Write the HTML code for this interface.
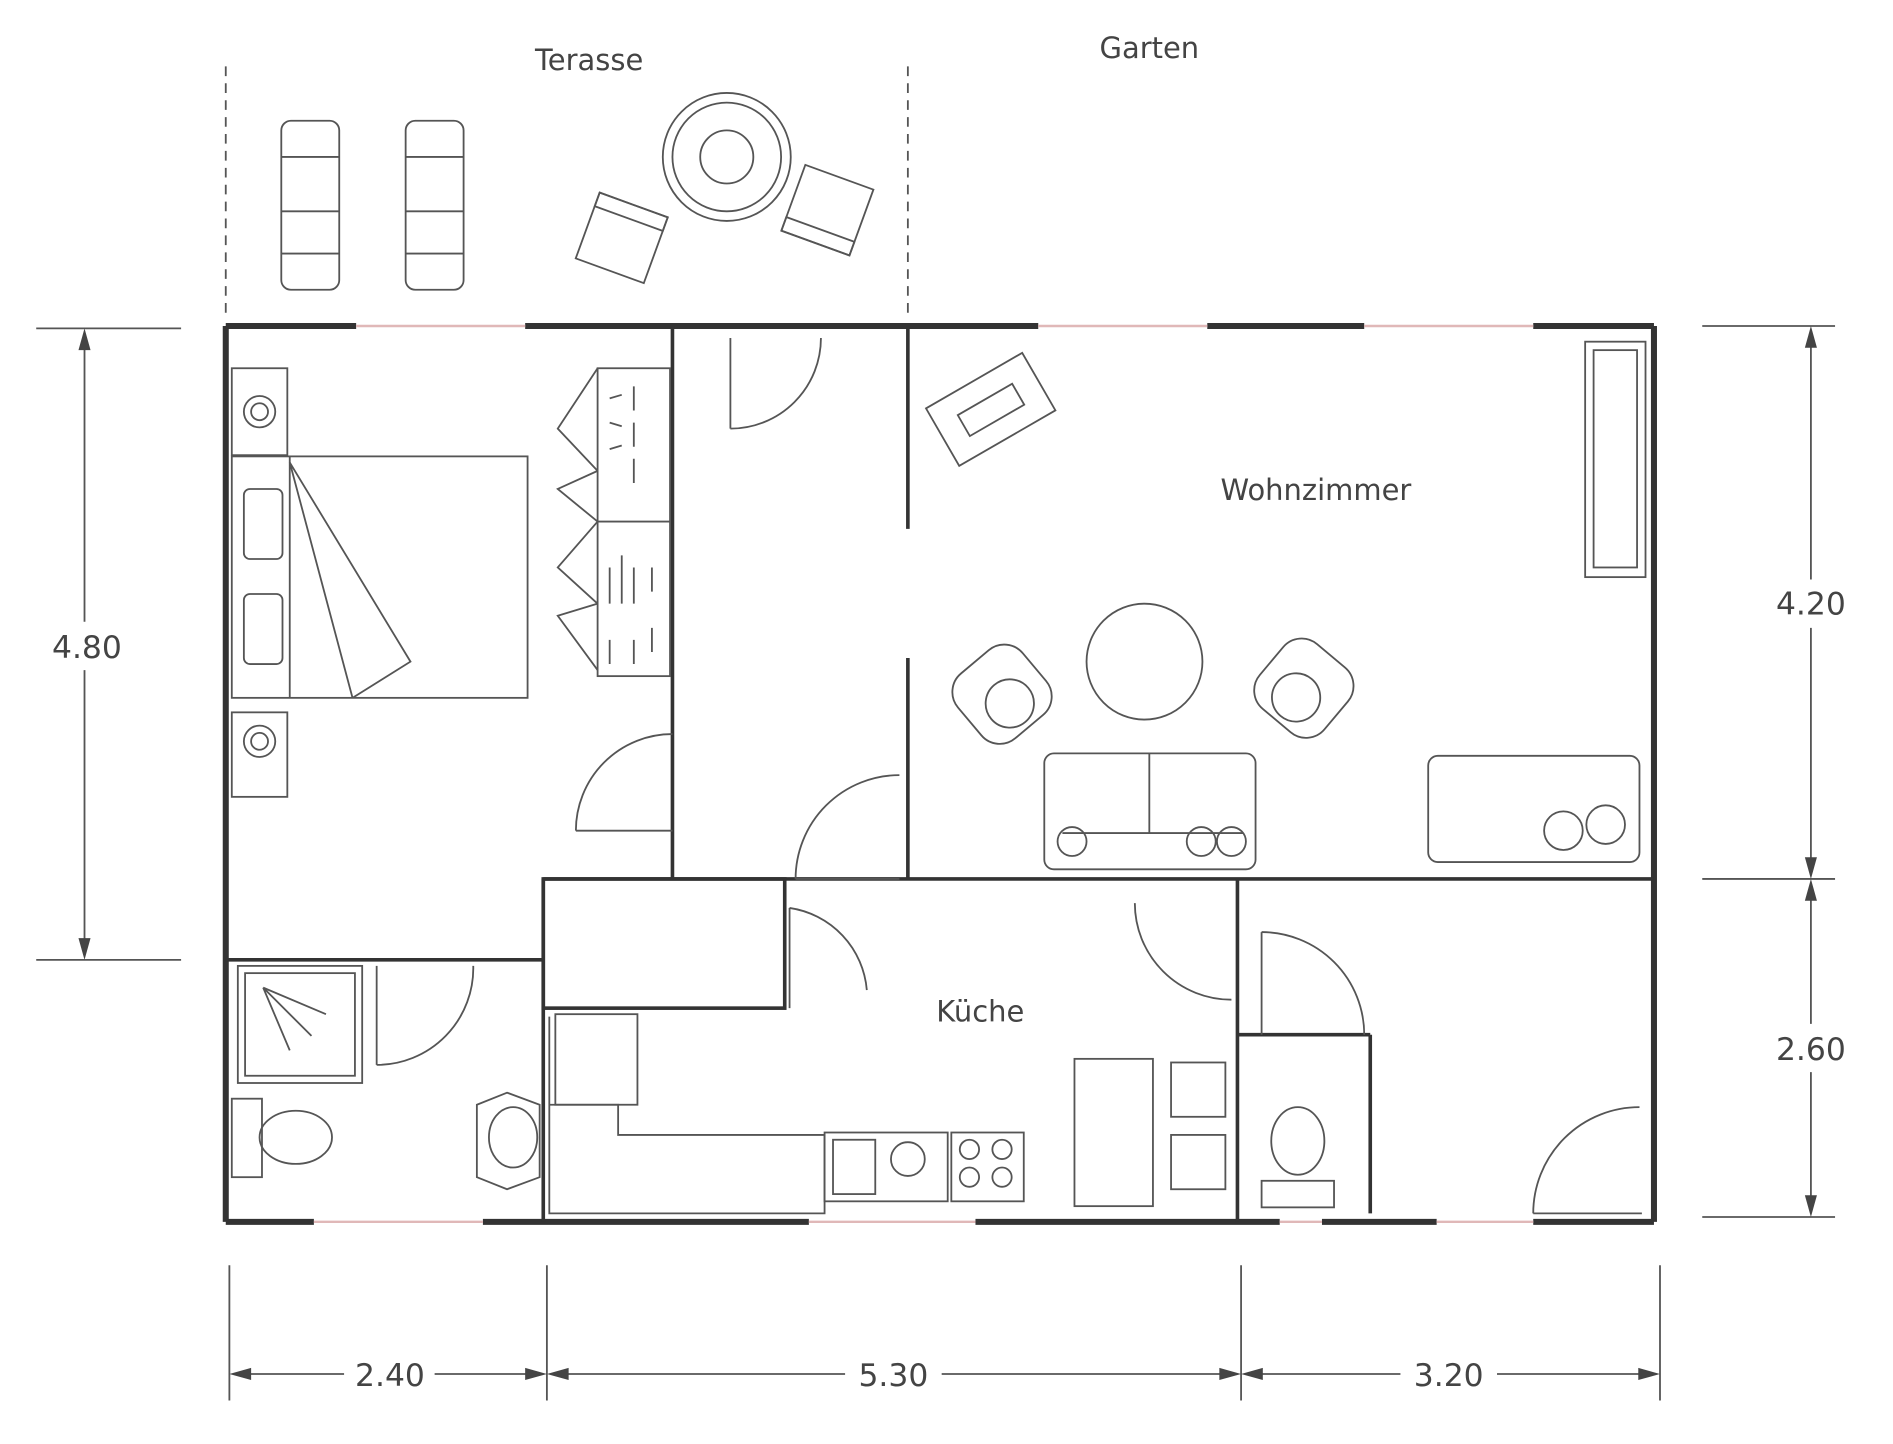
<!DOCTYPE html>
<html><head><meta charset="utf-8"><style>
html,body{margin:0;padding:0;background:#fff;}
svg{display:block;}
text{font-family:"DejaVu Sans","Liberation Sans",sans-serif;fill:#444;}
</style></head><body>
<svg width="1893" height="1444" viewBox="0 0 1568 1196" preserveAspectRatio="none" xmlns="http://www.w3.org/2000/svg">
<rect width="1568" height="1196" fill="#fff"/>
<g stroke="#555" fill="none" stroke-width="1.5">
<!-- terrace dashed -->
<line x1="187" y1="55" x2="187" y2="265" stroke-dasharray="8,6"/>
<line x1="752" y1="55" x2="752" y2="265" stroke-dasharray="8,6"/>
</g>
<text x="488" y="58" font-size="24" text-anchor="middle">Terasse</text>
<text x="952" y="48" font-size="24" text-anchor="middle">Garten</text>
<text x="1090" y="414" font-size="24" text-anchor="middle">Wohnzimmer</text>
<text x="812" y="846" font-size="24" text-anchor="middle">Küche</text>
<!-- outer walls thick -->
<g stroke="#333" stroke-width="5" fill="none">
<line x1="187" y1="270" x2="187" y2="1012"/>
<line x1="1370" y1="270" x2="1370" y2="1012"/>
<line x1="187" y1="270" x2="295" y2="270"/>
<line x1="435" y1="270" x2="860" y2="270"/>
<line x1="1000" y1="270" x2="1130" y2="270"/>
<line x1="1270" y1="270" x2="1370" y2="270"/>
<line x1="187" y1="1012" x2="260" y2="1012"/>
<line x1="400" y1="1012" x2="670" y2="1012"/>
<line x1="808" y1="1012" x2="1060" y2="1012"/>
<line x1="1095" y1="1012" x2="1190" y2="1012"/>
<line x1="1270" y1="1012" x2="1370" y2="1012"/>
</g>
<g stroke="#e0b8b8" stroke-width="2">
<line x1="295" y1="270" x2="435" y2="270"/><line x1="860" y1="270" x2="1000" y2="270"/><line x1="1130" y1="270" x2="1270" y2="270"/>
<line x1="260" y1="1012" x2="400" y2="1012"/><line x1="670" y1="1012" x2="808" y2="1012"/><line x1="1060" y1="1012" x2="1095" y2="1012"/><line x1="1190" y1="1012" x2="1270" y2="1012"/>
</g>
<!-- inner walls -->
<g stroke="#333" stroke-width="3" fill="none">
<line x1="557" y1="270" x2="557" y2="728"/>
<line x1="752" y1="270" x2="752" y2="438"/>
<line x1="752" y1="545" x2="752" y2="728"/>
<line x1="450" y1="728" x2="1370" y2="728"/>
<line x1="450" y1="728" x2="450" y2="1012"/>
<rect x="450" y="728" width="200" height="107"/>
<line x1="187" y1="795" x2="450" y2="795"/>
<line x1="1025" y1="728" x2="1025" y2="1012"/>
<line x1="1025" y1="857" x2="1135" y2="857"/>
<line x1="1135" y1="857" x2="1135" y2="1005"/>
</g>
<!-- doors -->
<g stroke="#555" stroke-width="1.5" fill="none">
<line x1="605" y1="280" x2="605" y2="355"/><path d="M605,355 A75,75 0 0 0 680,280"/>
<line x1="477" y1="688" x2="557" y2="688"/><path d="M477,688 A80,80 0 0 1 557,608"/>
<line x1="659" y1="728" x2="745" y2="728"/><path d="M659,728 A86,86 0 0 1 745,642"/>
<line x1="654" y1="752" x2="654" y2="835"/><path d="M654,752 A75,75 0 0 1 718,820"/>
<line x1="940" y1="750" x2="940" y2="750"/><path d="M940,748 A80,80 0 0 0 1020,828"/><line x1="940" y1="748" x2="940" y2="748"/>
<line x1="312" y1="800" x2="312" y2="882"/><path d="M312,882 A80,80 0 0 0 392,800"/>
<line x1="1045" y1="772" x2="1045" y2="857"/><path d="M1045,772 A85,85 0 0 1 1130,857"/>
<line x1="1270" y1="1005" x2="1360" y2="1005"/><path d="M1270,1005 A88,88 0 0 1 1358,917"/>
</g>
<!-- bedroom -->
<g stroke="#555" stroke-width="1.5" fill="none">
<rect x="192" y="305" width="46" height="72"/><circle cx="215" cy="341" r="13"/><circle cx="215" cy="341" r="7"/>
<rect x="192" y="590" width="46" height="70"/><circle cx="215" cy="614" r="13"/><circle cx="215" cy="614" r="7"/>
<rect x="192" y="378" width="245" height="200"/>
<line x1="240" y1="378" x2="240" y2="578"/>
<rect x="202" y="405" width="32" height="58" rx="5"/><rect x="202" y="492" width="32" height="58" rx="5"/>
<path d="M240,383 L340,548 L292,578 M240,383 L292,578"/>
<rect x="495" y="305" width="60" height="255"/><line x1="495" y1="432" x2="555" y2="432"/>
<path d="M495,305 L462,355 L495,390 M495,390 L462,405 L495,432 M495,432 L462,470 L495,500 M495,500 L462,510 L495,555"/>
<path d="M505,330 l10,-3 M505,350 l10,3 M505,372 l10,-3 M525,320 v20 M525,350 v20 M525,380 v20 M505,470 v30 M515,460 v40 M525,470 v30 M540,470 v20 M505,530 v20 M525,530 v20 M540,520 v20"/>
</g>
<!-- bathroom left -->
<g stroke="#555" stroke-width="1.5" fill="none">
<rect x="197" y="800" width="103" height="97"/><rect x="203" y="806" width="91" height="85"/>
<path d="M218,818 L270,840 M218,818 L258,858 M218,818 L240,870"/>
<rect x="192" y="910" width="25" height="65"/><ellipse cx="245" cy="942" rx="30" ry="22"/>
<path d="M395,915 L420,905 L447,915 L447,975 L420,985 L395,975 Z"/><ellipse cx="425" cy="942" rx="20" ry="25"/>
</g>
<!-- kitchen -->
<g stroke="#555" stroke-width="1.5" fill="none">
<rect x="460" y="840" width="68" height="75"/>
<path d="M455,842 V1005 H683 V940 H512 V915 H455"/>
<rect x="683" y="938" width="102" height="57"/><rect x="690" y="944" width="35" height="45"/><circle cx="752" cy="960" r="14"/>
<rect x="788" y="938" width="60" height="57"/><circle cx="803" cy="952" r="8"/><circle cx="830" cy="952" r="8"/><circle cx="803" cy="975" r="8"/><circle cx="830" cy="975" r="8"/>
<rect x="890" y="877" width="65" height="122"/>
<rect x="970" y="880" width="45" height="45"/><rect x="970" y="940" width="45" height="45"/>
<!-- toilet right -->
<rect x="1045" y="978" width="60" height="22"/><ellipse cx="1075" cy="945" rx="22" ry="28"/>
</g>
<!-- living -->
<g stroke="#555" stroke-width="1.5" fill="none">
<rect x="1313" y="283" width="50" height="195"/><rect x="1320" y="290" width="36" height="180"/>
<g transform="rotate(-30 820 340)"><rect x="775" y="312" width="92" height="55"/><rect x="795" y="330" width="52" height="20"/></g>
<circle cx="948" cy="548" r="48"/>
<g transform="rotate(-40 830 575)"><rect x="795" y="540" width="70" height="70" rx="20"/><circle cx="830" cy="585" r="20"/></g>
<g transform="rotate(40 1080 570)"><rect x="1045" y="535" width="70" height="70" rx="20"/><circle cx="1080" cy="580" r="20"/></g>
<rect x="865" y="624" width="175" height="96" rx="8"/><line x1="952" y1="624" x2="952" y2="690"/><line x1="880" y1="690" x2="1030" y2="690"/>
<circle cx="888" cy="697" r="12"/><circle cx="995" cy="697" r="12"/><circle cx="1020" cy="697" r="12"/>
<rect x="1183" y="626" width="175" height="88" rx="8"/><circle cx="1295" cy="688" r="16"/><circle cx="1330" cy="683" r="16"/>
<!-- terrace furniture -->
<rect x="233" y="100" width="48" height="140" rx="8"/><line x1="233" y1="130" x2="281" y2="130"/><line x1="233" y1="175" x2="281" y2="175"/><line x1="233" y1="210" x2="281" y2="210"/>
<rect x="336" y="100" width="48" height="140" rx="8"/><line x1="336" y1="130" x2="384" y2="130"/><line x1="336" y1="175" x2="384" y2="175"/><line x1="336" y1="210" x2="384" y2="210"/>
<circle cx="602" cy="130" r="53"/><circle cx="602" cy="130" r="45"/><circle cx="602" cy="130" r="22"/>
<g transform="rotate(20 515 197)"><rect x="485" y="168" width="60" height="58"/><rect x="485" y="168" width="60" height="12"/></g>
<g transform="rotate(20 685 175)"><rect x="655" y="145" width="60" height="58"/><rect x="655" y="191" width="60" height="12"/></g>
</g>
<!-- dimensions -->
<g stroke="#555" stroke-width="1.5" fill="none">
<line x1="30" y1="272" x2="150" y2="272"/><line x1="30" y1="795" x2="150" y2="795"/>
<line x1="70" y1="280" x2="70" y2="515"/><line x1="70" y1="555" x2="70" y2="788"/>
<line x1="1410" y1="270" x2="1520" y2="270"/><line x1="1410" y1="728" x2="1520" y2="728"/><line x1="1410" y1="1008" x2="1520" y2="1008"/>
<line x1="1500" y1="278" x2="1500" y2="480"/><line x1="1500" y1="520" x2="1500" y2="720"/>
<line x1="1500" y1="736" x2="1500" y2="848"/><line x1="1500" y1="888" x2="1500" y2="1002"/>
<line x1="190" y1="1048" x2="190" y2="1160"/><line x1="453" y1="1048" x2="453" y2="1160"/><line x1="1028" y1="1048" x2="1028" y2="1160"/><line x1="1375" y1="1048" x2="1375" y2="1160"/>
<line x1="195" y1="1138" x2="285" y2="1138"/><line x1="360" y1="1138" x2="448" y2="1138"/>
<line x1="458" y1="1138" x2="700" y2="1138"/><line x1="780" y1="1138" x2="1023" y2="1138"/>
<line x1="1033" y1="1138" x2="1160" y2="1138"/><line x1="1240" y1="1138" x2="1370" y2="1138"/>
</g>
<g fill="#444">
<path d="M70,272 l-5,18 h10z"/><path d="M70,795 l-5,-18 h10z"/>
<path d="M1500,270 l-5,18 h10z"/><path d="M1500,728 l-5,-18 h10z"/><path d="M1500,728 l-5,18 h10z"/><path d="M1500,1008 l-5,-18 h10z"/>
<path d="M190,1138 l18,-5 v10z"/><path d="M453,1138 l-18,-5 v10z"/><path d="M453,1138 l18,-5 v10z"/><path d="M1028,1138 l-18,-5 v10z"/><path d="M1028,1138 l18,-5 v10z"/><path d="M1375,1138 l-18,-5 v10z"/>
</g>
<text x="72" y="545" font-size="26" text-anchor="middle">4.80</text>
<text x="1500" y="509" font-size="26" text-anchor="middle">4.20</text>
<text x="1500" y="878" font-size="26" text-anchor="middle">2.60</text>
<text x="323" y="1148" font-size="26" text-anchor="middle">2.40</text>
<text x="740" y="1148" font-size="26" text-anchor="middle">5.30</text>
<text x="1200" y="1148" font-size="26" text-anchor="middle">3.20</text>
</svg>
</body></html>
